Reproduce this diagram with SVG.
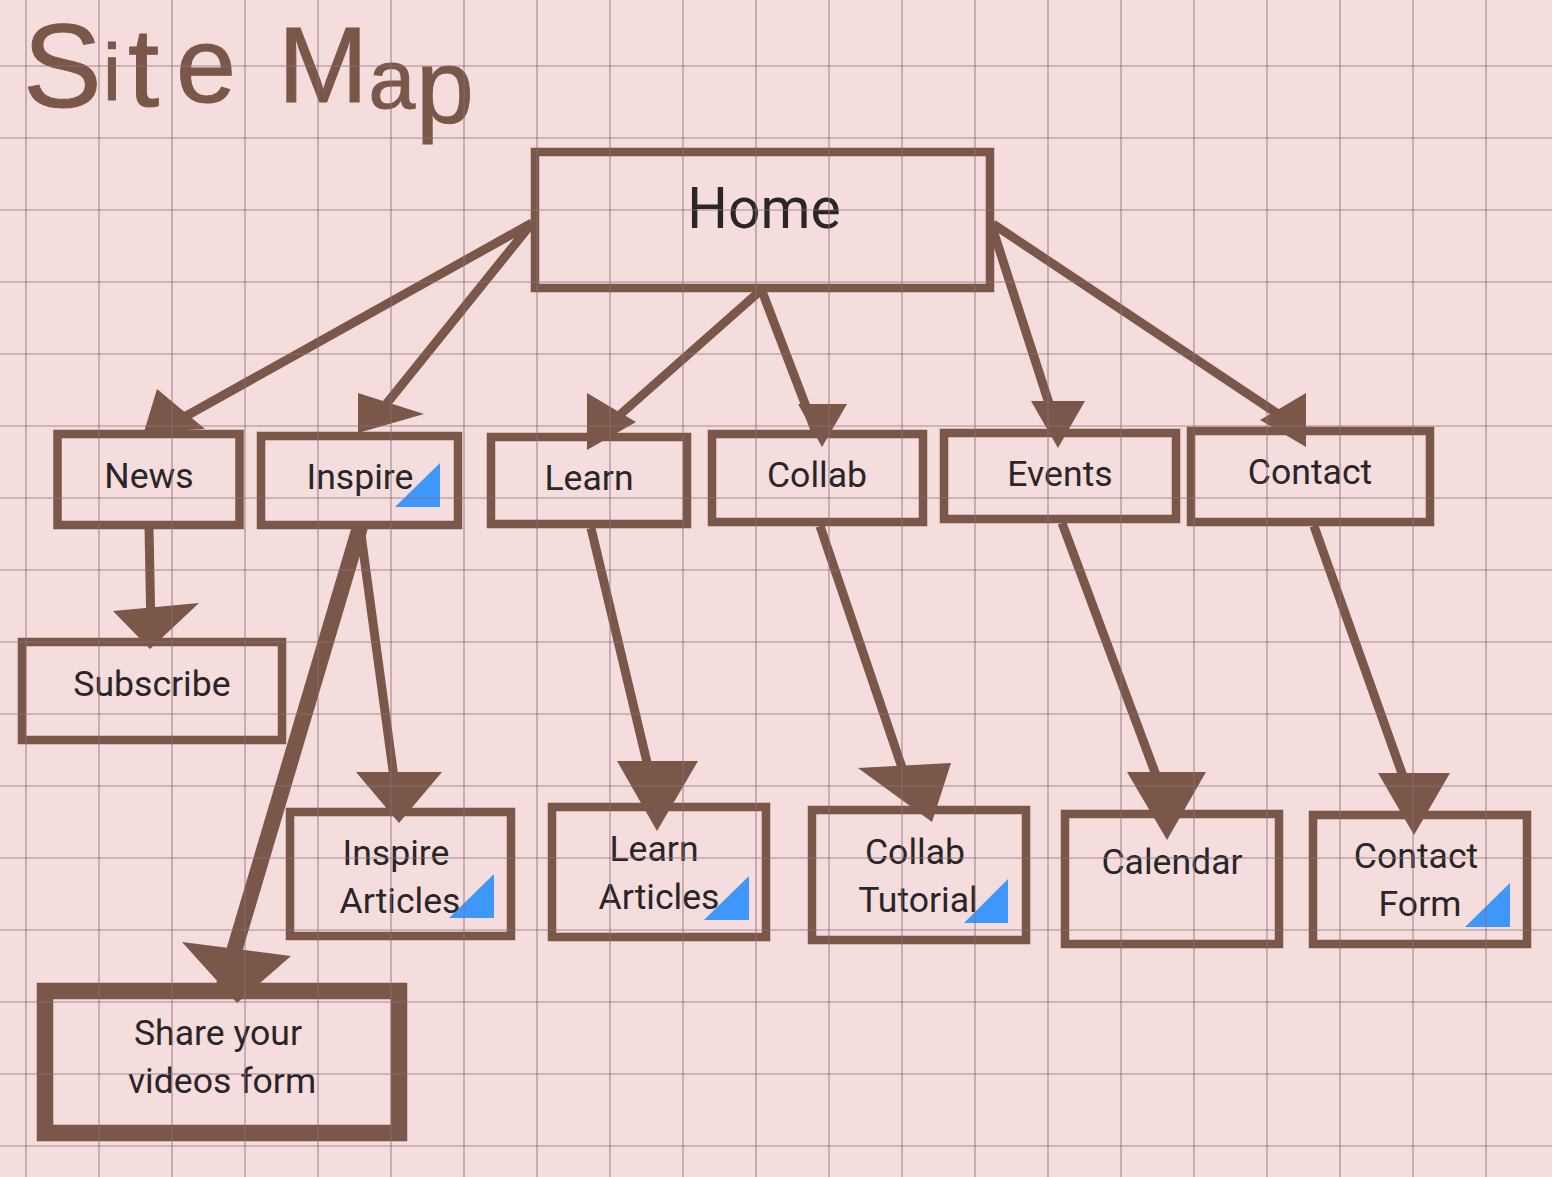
<svg xmlns="http://www.w3.org/2000/svg" width="1552" height="1177" viewBox="0 0 1552 1177">
<defs><style>
.g{stroke:#8a6f78;stroke-opacity:.5;stroke-width:1.7;fill:none}
.b{fill:none;stroke:#7a5748;stroke-width:8.5}
.l{stroke:#7a5748;stroke-width:9;fill:none}
.h{fill:#7a5748;stroke:none}
.t{font-family:Roboto,"Liberation Sans",sans-serif;font-size:35.6px;fill:#2a2526;text-anchor:middle}
.c{fill:#3f97fb}
.s{fill:#7a5748;stroke:#7a5748;stroke-width:1;font-family:"Liberation Sans",sans-serif}
</style></defs>
<rect width="1552" height="1177" fill="#f5dcdd"/>
<g id="title">
<text class="s"><tspan font-size="118" x="23" y="107">S</tspan><tspan font-size="80" x="103" y="100">i</tspan><tspan font-size="112" x="128" y="106">t</tspan><tspan font-size="108" x="176" y="102">e</tspan><tspan font-size="60" x="250" y="100"> </tspan><tspan font-size="108" x="278" y="102">M</tspan><tspan font-size="84" x="368.500" y="108">a</tspan><tspan font-size="104" x="416" y="122">p</tspan></text>
</g>
<g id="connectors">
<path class="l" d="M532 223L170 425M532 223L375 418M760 291L605 428M762 291L815 430M993 230L1056 425M993 224L1290 422M149 527L151 630M360 527L397 800M820 526L913 800M591 528L656 800M1062 523L1169 810M1314 526L1415 810"/>
<path class="l" style="stroke-width:16" d="M360 527L224 985"/>
<path class="h" d="M157 389L205 429L144 432ZM358 393L424 414L358 433ZM587 393L636 422L587 450ZM798 404H847L822 447ZM1031 401H1085L1058 448ZM1306 393V447L1260 420ZM113 611L199 603L150 649ZM356 772H442L399 823ZM617 761H698L657 831ZM858 768L951 763L932 822ZM1127 772H1206L1167 840ZM1378 773H1450L1414 835ZM182 942L291 956L237 1003Z"/>
</g>
<g id="home"><rect class="b" x="535" y="152" width="455" height="136"/><text class="t" style="font-size:57px" x="764" y="228">Home</text></g>
<g id="news"><rect class="b" x="57.500" y="434" width="182" height="91"/><text class="t" x="149" y="488">News</text></g>
<g id="inspire"><rect class="b" x="261" y="436" width="197" height="89"/><text class="t" x="360" y="489">Inspire</text><path class="c" d="M440 463V507H395Z"/></g>
<g id="learn"><rect class="b" x="491" y="437" width="196" height="87"/><text class="t" x="589" y="490">Learn</text></g>
<g id="collab"><rect class="b" x="712" y="434" width="211" height="88"/><text class="t" x="817" y="487">Collab</text></g>
<g id="events"><rect class="b" x="944" y="433" width="232" height="86"/><text class="t" x="1060" y="486">Events</text></g>
<g id="contact"><rect class="b" x="1191" y="431" width="239" height="91"/><text class="t" x="1310" y="484">Contact</text></g>
<g id="subscribe"><rect class="b" x="22" y="642" width="260" height="98"/><text class="t" x="152" y="696">Subscribe</text></g>
<g id="inspire-articles"><rect class="b" x="290" y="812" width="221" height="124"/><text class="t" x="396" y="865">Inspire</text><text class="t" x="400" y="913">Articles</text><path class="c" d="M494 874V918H449Z"/></g>
<g id="learn-articles"><rect class="b" x="552" y="807" width="214" height="130"/><text class="t" x="654" y="861">Learn</text><text class="t" x="659" y="909">Articles</text><path class="c" d="M749 876V920H704Z"/></g>
<g id="collab-tutorial"><rect class="b" x="812" y="810" width="214" height="130"/><text class="t" x="915" y="864">Collab</text><text class="t" x="918" y="912">Tutorial</text><path class="c" d="M1008 879V923H964Z"/></g>
<g id="calendar"><rect class="b" x="1065" y="814" width="214" height="130"/><text class="t" x="1172" y="874">Calendar</text></g>
<g id="contact-form"><rect class="b" x="1313" y="815" width="214" height="129"/><text class="t" x="1416" y="868">Contact</text><text class="t" x="1420" y="916">Form</text><path class="c" d="M1510 883V927H1465Z"/></g>
<g id="share"><rect style="fill:none;stroke:#7a5748;stroke-width:16.500" x="45" y="991" width="354" height="142"/><text class="t" x="218" y="1045">Share your</text><text class="t" x="222" y="1093">videos form</text></g>
<g id="grid">
<path class="g" d="M26 0V1177M99 0V1177M172 0V1177M245 0V1177M318 0V1177M391 0V1177M464 0V1177M537 0V1177M610 0V1177M683 0V1177M756 0V1177M829 0V1177M902 0V1177M975 0V1177M1048 0V1177M1121 0V1177M1194 0V1177M1267 0V1177M1340 0V1177M1413 0V1177M1486 0V1177"/>
<path class="g" d="M0 66H1552M0 138H1552M0 210H1552M0 282H1552M0 354H1552M0 426H1552M0 498H1552M0 570H1552M0 642H1552M0 714H1552M0 786H1552M0 858H1552M0 930H1552M0 1002H1552M0 1074H1552M0 1146H1552"/>
</g>
</svg>
